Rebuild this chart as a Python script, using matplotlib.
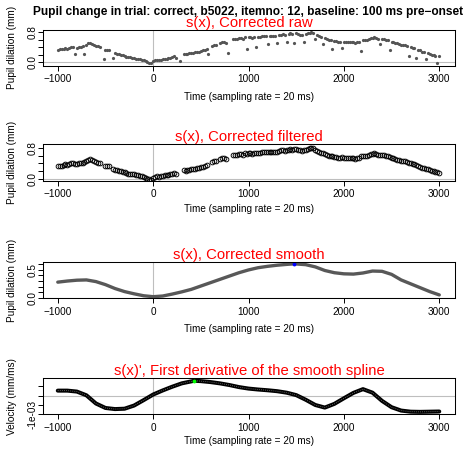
import numpy as np
import matplotlib
matplotlib.use('Agg')
import matplotlib.pyplot as plt

plt.rcParams['font.family'] = ['Liberation Sans', 'DejaVu Sans']
plt.rcParams['axes.unicode_minus'] = True

nan = np.nan

# one sample every 20 ms, -1000 .. 3000 ms
t_start, t_stop, t_step = -1000, 3000, 20
time = np.arange(t_start, t_stop + t_step, t_step)

# corrected + filtered pupil size (mm), nan = dropped sample
filtered = [
    0.33, 0.34, 0.34, 0.36, 0.37, 0.36, 0.38, 0.40, 0.41, 0.39,
    0.38, 0.40, 0.41, 0.42, 0.44, 0.46, 0.50, 0.52, 0.49, 0.46,
    0.44, 0.42, 0.40, nan, nan, 0.32, 0.33, 0.33, nan, 0.24,
    0.23, 0.22, 0.21, 0.19, 0.18, 0.16, 0.14, 0.13, 0.13, 0.12,
    0.11, 0.09, 0.08, 0.07, 0.06, 0.05, 0.02, 0.00, -0.02, -0.03,
    0.02, 0.05, 0.06, 0.05, 0.06, 0.07, 0.08, 0.09, 0.10, 0.12,
    0.13, 0.15, 0.12, nan, nan, nan, 0.22, 0.21, 0.22, 0.23,
    0.24, 0.25, 0.26, 0.27, 0.28, 0.30, 0.31, 0.33, 0.35, nan,
    nan, 0.43, 0.45, 0.46, nan, 0.51, 0.53, 0.54, 0.52, nan,
    nan, nan, 0.62, 0.63, 0.62, 0.64, 0.65, 0.63, 0.66, 0.65,
    0.66, 0.67, 0.65, 0.67, 0.68, 0.68, 0.67, 0.69, 0.70, 0.69,
    0.70, 0.69, 0.70, 0.71, 0.70, 0.71, 0.72, 0.74, 0.76, 0.73,
    0.74, 0.75, 0.77, 0.76, 0.78, 0.77, 0.76, 0.74, 0.72, 0.74,
    0.75, 0.77, 0.79, 0.81, 0.79, 0.76, 0.72, 0.69, 0.67, 0.66,
    0.64, 0.62, 0.60, 0.60, 0.58, 0.57, 0.56, 0.54, 0.55, 0.56,
    0.55, 0.55, 0.54, 0.53, 0.54, 0.53, 0.52, 0.53, 0.54, 0.58,
    0.59, 0.60, 0.59, 0.62, 0.64, 0.65, 0.66, 0.64, 0.63, 0.62,
    0.63, 0.62, 0.60, 0.58, 0.56, 0.55, 0.53, 0.51, 0.50, 0.48,
    0.47, 0.46, 0.45, 0.43, 0.41, 0.40, 0.38, 0.37, 0.35, 0.33,
    0.31, 0.28, 0.27, 0.25, 0.24, 0.22, 0.20, 0.19, 0.17, 0.16,
    0.15,
]

# raw samples that the filter threw out
outlier_time = [-820, -720, -520, -420, 280, 580, 780, 980, 1080, 1200,
                1300, 1400, 1480, 1580, 1700, 1780, 1880, 1980, 2180,
                2380, 2480, 2680, 2760, 2860, 2980]
outlier_value = [0.21, 0.21, 0.07, 0.10, 0.02, 0.21, 0.25, 0.36, 0.41, 0.48,
                 0.50, 0.54, 0.52, 0.54, 0.61, 0.48, 0.34, 0.39, 0.30,
                 0.48, 0.32, 0.16, 0.12, 0.07, -0.04]

# smoothing spline s(x), mm
smooth_time = [-1000, -900, -800, -700, -600, -500, -400, -300, -200, -100,
               0, 100, 200, 300, 400, 500, 600, 700, 800, 900,
               1000, 1100, 1200, 1300, 1400, 1480, 1600, 1700, 1800, 1900,
               2000, 2100, 2200, 2300, 2400, 2500, 2600, 2700, 2800, 2900,
               3000]
smooth = [0.28, 0.30, 0.315, 0.32, 0.29, 0.235, 0.165, 0.11, 0.07, 0.035,
          0.018, 0.03, 0.065, 0.105, 0.15, 0.21, 0.27, 0.33, 0.39, 0.45,
          0.50, 0.54, 0.565, 0.585, 0.60, 0.61, 0.595, 0.555, 0.49, 0.45,
          0.43, 0.425, 0.445, 0.48, 0.475, 0.42, 0.32, 0.25, 0.18, 0.11,
          0.05]

# first derivative s'(x), mm/ms
deriv_time = [-1000, -900, -800, -700, -600, -500, -400, -300, -200, -100,
              0, 100, 200, 300, 430, 500, 600, 700, 800, 900,
              1000, 1100, 1200, 1300, 1400, 1500, 1600, 1700, 1800, 1900,
              2000, 2100, 2200, 2300, 2400, 2500, 2600, 2700, 2800, 2900,
              3000]
deriv = np.array([0.27, 0.27, 0.22, 0.02, -0.42, -0.66, -0.72, -0.70, -0.53, -0.24,
                  0.06, 0.28, 0.48, 0.66, 0.80, 0.78, 0.73, 0.66, 0.57, 0.46,
                  0.38, 0.33, 0.29, 0.24, 0.16, 0.03, -0.22, -0.50, -0.64, -0.44,
                  -0.14, 0.15, 0.35, 0.16, -0.28, -0.62, -0.80, -0.86, -0.87, -0.86,
                  -0.85]) * 1e-3

filtered = np.array(filtered)
raw = filtered.copy()
raw[(np.array(outlier_time) - t_start) // t_step] = outlier_value

W, H = 467, 450
fig = plt.figure(figsize=(W / 100, H / 100), dpi=100)

def panel(top, bottom):
    return fig.add_axes([43 / W, 1 - bottom / H, 412 / W, (bottom - top) / H])

def r_style(ax, ylim, yticks, ylabels, ylab, sub, pad, xlab_off):
    ax.set_xlim(-1155, 3165)
    ax.set_ylim(*ylim)
    ax.set_xticks([-1000, 0, 1000, 2000, 3000])
    ax.set_yticks(yticks)
    ax.set_yticklabels(ylabels, rotation=90, va='center')
    ax.tick_params(axis='both', direction='out', length=3.4, width=0.7,
                   labelsize=7.2, colors='black')
    ax.tick_params(axis='x', pad=2.7)
    ax.tick_params(axis='y', pad=0.5)
    for s in ax.spines.values():
        s.set_linewidth(0.75)
    ax.axvline(0, color='#bebebe', lw=0.8, zorder=0)
    ax.axhline(0, color='#bebebe', lw=0.8, zorder=0)
    h = ax.get_position().height * H
    ax.set_xlabel('Time (sampling rate = 20 ms)', fontsize=7.2, va='center')
    ax.xaxis.set_label_coords(0.5, -xlab_off / h)
    ax.set_ylabel(ylab, fontsize=7.2, va='center')
    ax.yaxis.set_label_coords(-31 / 412, 0.5)
    ax.set_title(sub, color='#ff0000', fontsize=10.7, pad=pad)

fig.text(248 / W, 1 - 14.6 / H,
         'Pupil change in trial: correct, b5022, itemno: 12, baseline: 100 ms pre\u2212onset',
         ha='center', va='baseline', fontsize=8.6, fontweight='bold')

ax1 = panel(30, 65.7)
ax1.plot(time, raw, 'o', ms=2.3, color='#555555', mec='none')
r_style(ax1, (-0.10, 0.862), [0, 0.2, 0.4, 0.6, 0.8], ['0.0', '', '', '', '0.8'],
        'Pupil dilation (mm)', 's(x), Corrected raw', 1.45, 31)

ax2 = panel(144.3, 181)
ax2.plot(time, filtered, 'o', ms=3.4, mfc='none', mec='black', mew=0.65)
r_style(ax2, (-0.065, 0.90), [0, 0.2, 0.4, 0.6, 0.8], ['0.0', '', '', '', '0.8'],
        'Pupil dilation (mm)', 's(x), Corrected filtered', -1.6, 28)

ax3 = panel(262, 298.3)
ax3.plot(smooth_time, smooth, '-', lw=2.4, color='#585858', solid_capstyle='round')
k = int(np.argmax(smooth))
ax3.plot(smooth_time[k], smooth[k], 'o', ms=2.8, color='#0000ff', mec='none')
r_style(ax3, (-0.011, 0.643), [0, 0.1, 0.2, 0.3, 0.4, 0.5, 0.6],
        ['0.0', '', '', '', '', '0.5', ''],
        'Pupil dilation (mm)', 's(x), Corrected smooth', 0.1, 30.5)

ax4 = panel(378, 414.3)
ax4.plot(deriv_time, deriv, '-', lw=2.9, color='black', solid_capstyle='round')
ax4.plot(deriv_time, deriv, '-', lw=0.6, color='#777777', ls=(0, (1, 1.5)))
k = int(np.argmax(deriv))
ax4.plot(deriv_time[k], deriv[k], 'o', ms=2.8, color='#00ff00', mec='none', zorder=5)
r_style(ax4, (-1.0e-3, 0.948e-3), [-1e-3, -5e-4, 0, 5e-4],
        ['-1e-03', '', '', ''],
        'Velocity (mm/ms)', "s(x)', First derivative of the smooth spline", -0.2, 26.5)

fig.savefig('out.png', dpi=100)
